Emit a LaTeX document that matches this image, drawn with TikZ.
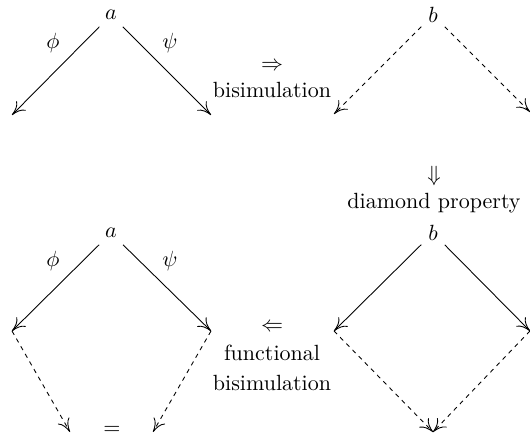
\documentclass[tikz,border=0pt]{standalone}
\usetikzlibrary{arrows.meta}
\begin{document}
\begin{tikzpicture}[x=0.4545pt,y=-0.4545pt,
  obj/.style={inner sep=3pt},
  txt/.style={inner sep=0pt},
  arr/.style={line width=0.4pt,-{Computer Modern Rightarrow[length=6pt,width=6pt]}},
  darr/.style={arr,dash pattern=on 2pt off 2pt}]
\useasboundingbox (0,0) rectangle (530,437);
% top left
\node[obj] (a1) at (111,15) {$a$};
\coordinate (L1) at (12,115);
\coordinate (R1) at (211,115);
\draw[arr] (a1) -- (L1);
\draw[arr] (a1) -- (R1);
\node[txt] (phi1) at (53,43) {$\phi$};
\node[txt] (psi1) at (170,43) {$\psi$};
% top right
\node[obj] (b1) at (433,15) {$b$};
\coordinate (L2) at (334,114);
\coordinate (R2) at (530,112);
\draw[darr] (b1) -- (L2);
\draw[darr] (b1) -- (R2);
% top middle text
\node[txt] (imp1) at (272,66) {$\Rightarrow$};
\node[txt] (bis1) at (272,90) {bisimulation};
% diamond property
\node[txt] (imp2) at (434,176) {$\Downarrow$};
\node[txt] (dia) at (434,203) {diamond property};
% bottom left
\node[obj] (a2) at (111,233) {$a$};
\coordinate (L3) at (12,331);
\coordinate (R3) at (211,331);
\draw[arr] (a2) -- (L3);
\draw[arr] (a2) -- (R3);
\node[txt] (phi2) at (53,261) {$\phi$};
\node[txt] (psi2) at (170,261) {$\psi$};
\coordinate (D1) at (70,432);
\coordinate (D2) at (153,432);
\node[txt] (eq) at (112,430) {$=$};
\draw[darr] (L3) -- (D1);
\draw[darr] (R3) -- (D2);
% bottom right
\node[obj] (b2) at (433,233) {$b$};
\coordinate (L4) at (334,331);
\coordinate (R4) at (530,331);
\coordinate (D3) at (433,432);
\draw[arr] (b2) -- (L4);
\draw[arr] (b2) -- (R4);
\draw[darr] (L4) -- (D3);
\draw[darr] (R4) -- (D3);
% bottom middle text
\node[txt] (imp3) at (272,327) {$\Leftarrow$};
\node[txt] (fun) at (272,353) {functional};
\node[txt] (bis2) at (272,383) {bisimulation};
\end{tikzpicture}
\end{document}
